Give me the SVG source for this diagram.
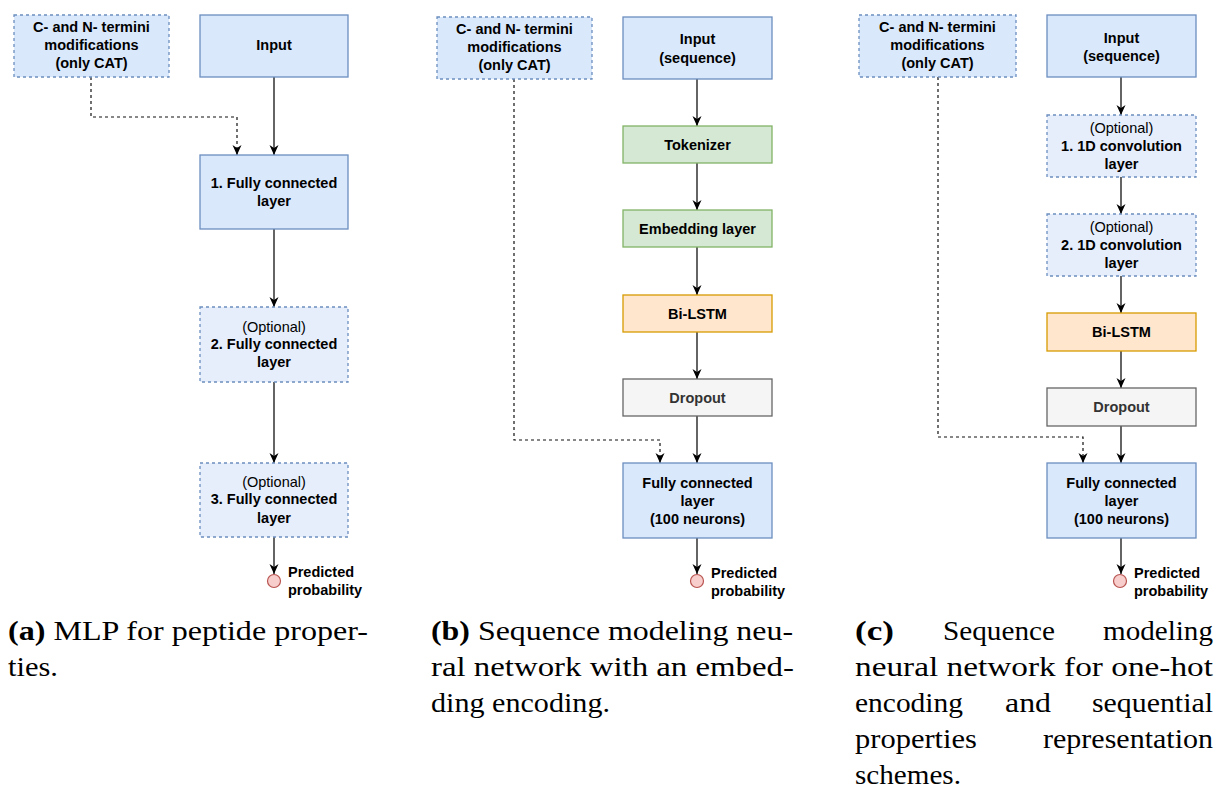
<svg xmlns="http://www.w3.org/2000/svg" width="1215" height="789" viewBox="0 0 1215 789">
<style>
  .box { stroke-width: 1.3; }
  .blue { fill: #dae8fc; stroke: #6c8ebf; }
  .opt { fill: #e6eefc; stroke: #6c8ebf; stroke-dasharray: 3 3; }
  .cn { fill: #dae8fc; stroke: #6c8ebf; stroke-dasharray: 3 3; }
  .green { fill: #d5e8d4; stroke: #82b366; }
  .orange { fill: #ffe6cc; stroke: #d79b00; }
  .gray { fill: #f5f5f5; stroke: #666666; }
  .t { font-family: "Liberation Sans", Arial, sans-serif; font-size: 14.5px; font-weight: bold; fill: #000; text-anchor: middle; }
  .tn { font-weight: normal; }
  .tg { fill: #333333; }
  .lbl { font-family: "Liberation Sans", Arial, sans-serif; font-size: 14.5px; font-weight: bold; fill: #000; }
  .arr { fill: none; stroke: #111; stroke-width: 1.3; marker-end: url(#ah); }
  .dash { fill: none; stroke: #111; stroke-width: 1.2; stroke-dasharray: 3 3; marker-end: url(#ah); }
  .out { fill: #f8cecc; stroke: #b85450; stroke-width: 1.2; }
  .cap { font-family: "Liberation Serif", "Times New Roman", serif; font-size: 27.5px; fill: #000; }
</style>
<defs>
  <marker id="ah" viewBox="0 0 10 10" refX="10" refY="5" markerWidth="10" markerHeight="10" markerUnits="userSpaceOnUse" orient="auto">
    <path d="M0,0.5 L10,5 L0,9.5 L3,5 z" fill="#000"/>
  </marker>
</defs>

<!-- Connectors -->
<g id="connectors">
  <!-- (a) -->
  <path class="dash" d="M91,77 V117 H237 V155"/>
  <path class="arr" d="M274,77 V155"/>
  <path class="arr" d="M274,229 V307"/>
  <path class="arr" d="M274,382 V463"/>
  <path class="arr" d="M274,537 V574"/>
  <!-- (b) -->
  <path class="dash" d="M514,79 V440 H660 V463"/>
  <path class="arr" d="M697,79 V126"/>
  <path class="arr" d="M697,163 V210"/>
  <path class="arr" d="M697,247 V295"/>
  <path class="arr" d="M697,332 V379"/>
  <path class="arr" d="M697,416 V463"/>
  <path class="arr" d="M697,538 V574"/>
  <!-- (c) -->
  <path class="dash" d="M938,77 V437 H1083 V463"/>
  <path class="arr" d="M1121,77 V115"/>
  <path class="arr" d="M1121,177 V214"/>
  <path class="arr" d="M1121,276 V313"/>
  <path class="arr" d="M1121,351 V388"/>
  <path class="arr" d="M1121,426 V463"/>
  <path class="arr" d="M1121,538 V574"/>
</g>

<!-- Panel (a) -->
<g id="a-cn">
  <rect class="box cn" x="14" y="15" width="155" height="62"/>
  <text class="t" x="91.5" y="32">C- and N- termini</text>
  <text class="t" x="91.5" y="50">modifications</text>
  <text class="t" x="91.5" y="68">(only CAT)</text>
</g>
<g id="a-input">
  <rect class="box blue" x="200" y="15" width="148" height="62"/>
  <text class="t" x="274" y="50">Input</text>
</g>
<g id="a-fc1">
  <rect class="box blue" x="200" y="155" width="148" height="74"/>
  <text class="t" x="274" y="188">1. Fully connected</text>
  <text class="t" x="274" y="206">layer</text>
</g>
<g id="a-fc2">
  <rect class="box opt" x="200" y="307" width="148" height="75"/>
  <text class="t tn" x="274" y="332">(Optional)</text>
  <text class="t" x="274" y="349">2. Fully connected</text>
  <text class="t" x="274" y="367">layer</text>
</g>
<g id="a-fc3">
  <rect class="box opt" x="200" y="463" width="148" height="74"/>
  <text class="t tn" x="274" y="487">(Optional)</text>
  <text class="t" x="274" y="504">3. Fully connected</text>
  <text class="t" x="274" y="523">layer</text>
</g>
<g id="a-out">
  <circle class="out" cx="274" cy="581" r="6.5"/>
  <text class="lbl" x="288" y="577">Predicted</text>
  <text class="lbl" x="288" y="595">probability</text>
</g>

<!-- Panel (b) -->
<g id="b-cn">
  <rect class="box cn" x="437" y="17" width="155" height="62"/>
  <text class="t" x="514.5" y="34">C- and N- termini</text>
  <text class="t" x="514.5" y="52">modifications</text>
  <text class="t" x="514.5" y="70">(only CAT)</text>
</g>
<g id="b-input">
  <rect class="box blue" x="623" y="17" width="149" height="62"/>
  <text class="t" x="697.5" y="44">Input</text>
  <text class="t" x="697.5" y="63">(sequence)</text>
</g>
<g id="b-tok">
  <rect class="box green" x="623" y="126" width="149" height="37"/>
  <text class="t" x="697.5" y="150">Tokenizer</text>
</g>
<g id="b-emb">
  <rect class="box green" x="623" y="210" width="149" height="37"/>
  <text class="t" x="697.5" y="234">Embedding layer</text>
</g>
<g id="b-lstm">
  <rect class="box orange" x="623" y="295" width="149" height="37"/>
  <text class="t" x="697.5" y="319">Bi-LSTM</text>
</g>
<g id="b-drop">
  <rect class="box gray" x="623" y="379" width="149" height="37"/>
  <text class="t tg" x="697.5" y="403">Dropout</text>
</g>
<g id="b-fc">
  <rect class="box blue" x="623" y="463" width="149" height="75"/>
  <text class="t" x="697.5" y="488">Fully connected</text>
  <text class="t" x="697.5" y="506">layer</text>
  <text class="t" x="697.5" y="524">(100 neurons)</text>
</g>
<g id="b-out">
  <circle class="out" cx="697" cy="581" r="6.5"/>
  <text class="lbl" x="711" y="578">Predicted</text>
  <text class="lbl" x="711" y="596">probability</text>
</g>

<!-- Panel (c) -->
<g id="c-cn">
  <rect class="box cn" x="859" y="15" width="157" height="62"/>
  <text class="t" x="937.5" y="32">C- and N- termini</text>
  <text class="t" x="937.5" y="50">modifications</text>
  <text class="t" x="937.5" y="68">(only CAT)</text>
</g>
<g id="c-input">
  <rect class="box blue" x="1047" y="15" width="149" height="62"/>
  <text class="t" x="1121.5" y="43">Input</text>
  <text class="t" x="1121.5" y="61">(sequence)</text>
</g>
<g id="c-conv1">
  <rect class="box opt" x="1047" y="115" width="149" height="62"/>
  <text class="t tn" x="1121.5" y="133">(Optional)</text>
  <text class="t" x="1121.5" y="151">1. 1D convolution</text>
  <text class="t" x="1121.5" y="169">layer</text>
</g>
<g id="c-conv2">
  <rect class="box opt" x="1047" y="214" width="149" height="62"/>
  <text class="t tn" x="1121.5" y="232">(Optional)</text>
  <text class="t" x="1121.5" y="250">2. 1D convolution</text>
  <text class="t" x="1121.5" y="268">layer</text>
</g>
<g id="c-lstm">
  <rect class="box orange" x="1047" y="313" width="149" height="38"/>
  <text class="t" x="1121.5" y="337">Bi-LSTM</text>
</g>
<g id="c-drop">
  <rect class="box gray" x="1047" y="388" width="149" height="38"/>
  <text class="t tg" x="1121.5" y="412">Dropout</text>
</g>
<g id="c-fc">
  <rect class="box blue" x="1047" y="463" width="149" height="75"/>
  <text class="t" x="1121.5" y="488">Fully connected</text>
  <text class="t" x="1121.5" y="506">layer</text>
  <text class="t" x="1121.5" y="524">(100 neurons)</text>
</g>
<g id="c-out">
  <circle class="out" cx="1120" cy="581" r="6.5"/>
  <text class="lbl" x="1134" y="578">Predicted</text>
  <text class="lbl" x="1134" y="596">probability</text>
</g>

<!-- Captions -->
<g id="captions">
  <text class="cap" x="8" y="640" textLength="360" lengthAdjust="spacingAndGlyphs"><tspan font-weight="bold">(a)</tspan> MLP for peptide proper-</text>
  <text class="cap" x="8" y="676" textLength="50" lengthAdjust="spacingAndGlyphs">ties.</text>

  <text class="cap" x="431" y="640" textLength="362" lengthAdjust="spacingAndGlyphs"><tspan font-weight="bold">(b)</tspan> Sequence modeling neu-</text>
  <text class="cap" x="431" y="676" textLength="363" lengthAdjust="spacingAndGlyphs">ral network with an embed-</text>
  <text class="cap" x="431" y="712" textLength="179" lengthAdjust="spacingAndGlyphs">ding encoding.</text>

  <text class="cap" x="855" y="640" font-weight="bold" textLength="39" lengthAdjust="spacingAndGlyphs">(c)</text>
  <text class="cap" x="943" y="640" textLength="112" lengthAdjust="spacingAndGlyphs">Sequence</text>
  <text class="cap" x="1103" y="640" textLength="110" lengthAdjust="spacingAndGlyphs">modeling</text>
  <text class="cap" x="855" y="676" textLength="358" lengthAdjust="spacingAndGlyphs">neural network for one-hot</text>
  <text class="cap" x="855" y="712" textLength="108" lengthAdjust="spacingAndGlyphs">encoding</text>
  <text class="cap" x="1005" y="712" textLength="46" lengthAdjust="spacingAndGlyphs">and</text>
  <text class="cap" x="1092" y="712" textLength="121" lengthAdjust="spacingAndGlyphs">sequential</text>
  <text class="cap" x="855" y="748" textLength="122" lengthAdjust="spacingAndGlyphs">properties</text>
  <text class="cap" x="1043" y="748" textLength="170" lengthAdjust="spacingAndGlyphs">representation</text>
  <text class="cap" x="855" y="784" textLength="106" lengthAdjust="spacingAndGlyphs">schemes.</text>
</g>
</svg>
